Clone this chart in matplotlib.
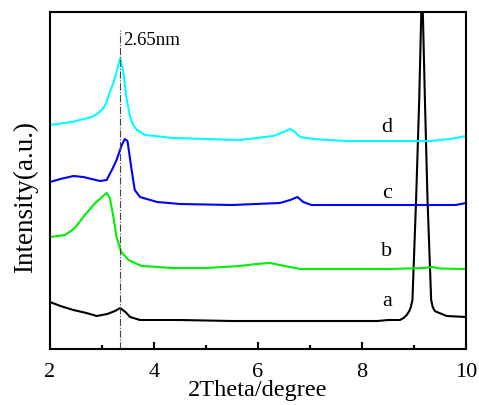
import matplotlib
matplotlib.use("Agg")
import matplotlib.pyplot as plt
from matplotlib.ticker import MultipleLocator

plt.rcParams['font.family'] = ['Liberation Serif', 'DejaVu Serif']

# sample a
a_x = [2.0, 2.2, 2.45, 2.7, 2.9, 3.1, 3.25, 3.35, 3.45, 3.54, 3.73, 4.0, 4.5, 5.5, 6.5, 7.5,
       8.3, 8.5, 8.73, 8.8, 8.86, 8.91, 8.94, 8.97, 9.04, 9.10, 9.155, 9.21, 9.26, 9.33,
       9.36, 9.40, 9.44, 9.63, 10.0]
a_y = [47, 43, 39, 36, 33, 35, 38, 41, 37, 32, 29, 29, 29, 28, 28, 28,
       28, 29, 29, 31, 34, 38, 42, 49, 149, 249, 369, 249, 149, 49,
       42, 38, 37, 33, 32]

# sample b
b_x = [2.0, 2.29, 2.48, 2.67, 2.87, 3.0, 3.09, 3.15, 3.22, 3.28, 3.37, 3.51, 3.76, 4.37, 5.0,
       5.65, 5.97, 6.23, 6.42, 6.81, 7.5, 8.5, 9.2, 9.35, 9.5, 10.0]
b_y = [112, 114, 121, 134, 146, 152, 156, 151, 132, 112, 97, 89, 83, 81, 81,
       83, 85, 86, 84, 80, 80, 80, 81, 82, 80.5, 80]

# sample c
c_x = [2.0, 2.2, 2.45, 2.64, 2.96, 3.09, 3.19, 3.28, 3.38, 3.44, 3.49, 3.57, 3.63, 3.73, 4.06,
       4.5, 5.5, 6.42, 6.62, 6.76, 6.87, 7.03, 8.0, 9.0, 9.8, 10.0]
c_y = [167, 170, 173, 172, 168, 169, 179, 189, 204, 210, 208, 179, 159, 152, 147,
       145, 144, 146, 149, 152, 147, 144, 144, 144, 144, 146]

# sample d
d_x = [2.0, 2.42, 2.80, 2.93, 3.03, 3.09, 3.15, 3.22, 3.28, 3.35, 3.41, 3.44, 3.47, 3.51,
       3.55, 3.60, 3.67, 3.83, 4.37, 5.0, 5.65, 6.29, 6.49, 6.62, 6.71, 6.81, 7.06, 7.68,
       8.5, 9.3, 9.7, 10.0]
d_y = [224, 227, 232, 236, 241, 247, 257, 266, 277, 291, 277, 264, 251, 240,
       230, 224, 219, 214, 211, 210, 209, 213, 217, 220, 217, 212, 210, 208,
       208, 208, 210, 213]

series = [(a_x, a_y, 'black', 'a', 47), (b_x, b_y, '#00EE00', 'b', 98),
          (c_x, c_y, '#0000FF', 'c', 156), (d_x, d_y, '#00FFFF', 'd', 221)]

ref_x = 3.346
ref_label = '2.65nm'

fig = plt.figure(figsize=(4.79, 4.05), dpi=100)
ax = fig.add_axes([50/479, 56/405, 416/479, 337/405])

for xs, ys, col, lab, ly in series:
    ax.plot(xs, ys, color=col, lw=1.5)
    ax.text(8.48, ly, lab, fontsize=16, ha='center', va='center')

ax.plot([ref_x, ref_x], [0, 319], color='#444444', lw=0.8, ls='-.')
ax.text(3.40, 304, ref_label, fontsize=13.5, ha='left', va='baseline')

ax.set_xlim(2, 10)
ax.set_ylim(0, 337)
ax.xaxis.set_major_locator(MultipleLocator(2))
ax.xaxis.set_minor_locator(MultipleLocator(1))
ax.tick_params(axis='x', which='both', direction='in', labelsize=16, pad=10, width=1.5)
ax.tick_params(axis='x', which='major', length=5)
ax.tick_params(axis='x', which='minor', length=3)
ax.set_yticks([])
for s in ax.spines.values():
    s.set_linewidth(1.5)

ax.set_xlabel('2Theta/degree', fontsize=17.5)
ax.xaxis.set_label_coords(0.5, -0.092)
ax.xaxis.label.set_va('top')
ax.set_ylabel('Intensity(a.u.)', fontsize=19.5)
ax.yaxis.set_label_coords(-25/416, 0.451)
ax.yaxis.label.set_va('center')

fig.savefig('out.png', dpi=100)
